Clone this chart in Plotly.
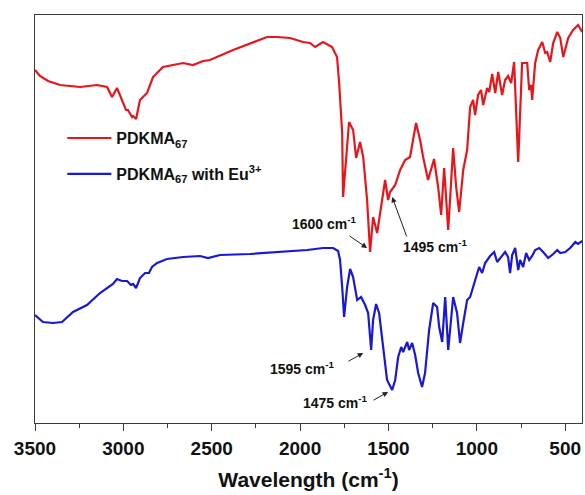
import plotly.graph_objects as go

# Wavenumber (cm-1) and relative transmittance (a.u.)
red_wn = [3500, 3472, 3426, 3358, 3245, 3149, 3092, 3064, 3036, 3008, 2985, 2974, 2951, 2945, 2928,
          2906, 2866, 2832, 2776, 2662, 2606, 2549, 2510, 2379, 2187, 2130, 2057, 1983, 1944, 1915,
          1870, 1819, 1791, 1779, 1762, 1757, 1734, 1723, 1700, 1683, 1661, 1643, 1621, 1604, 1587,
          1564, 1536, 1519, 1502, 1491, 1462, 1434, 1406, 1378, 1361, 1344, 1321, 1304, 1276, 1242,
          1219, 1202, 1185, 1162, 1134, 1117, 1100, 1077, 1055, 1038, 1021, 1010, 993, 976, 964,
          942, 930, 913, 896, 879, 857, 840, 823, 806, 789, 766, 744, 715, 704, 693,
          687, 670, 653, 630, 613, 602, 585, 568, 545, 528, 511, 483, 455, 427, 404]
red_t = [353, 347, 342, 338, 336, 338, 336, 326, 335, 323, 313, 313, 306, 307, 304,
         323, 330, 346, 356, 360, 358, 362, 363, 373, 386, 386, 385, 381, 380, 376,
         381, 376, 366, 340, 290, 226, 283, 301, 293, 265, 281, 266, 223, 171, 206,
         190, 223, 243, 223, 231, 238, 253, 263, 266, 283, 300, 283, 266, 243, 264,
         236, 208, 255, 193, 275, 236, 211, 253, 273, 316, 323, 308, 328, 333, 318,
         335, 331, 349, 330, 351, 328, 343, 347, 340, 361, 261, 360, 360, 333, 338,
         323, 360, 373, 381, 370, 371, 361, 380, 391, 385, 366, 385, 393, 398, 391]

blue_wn = [3500, 3455, 3398, 3347, 3285, 3206, 3132, 3076, 3059, 3036, 3008, 2979, 2957, 2945, 2928,
           2906, 2877, 2855, 2838, 2809, 2753, 2662, 2566, 2521, 2453, 2283, 2187, 2113, 2000, 1960,
           1870, 1813, 1785, 1774, 1762, 1751, 1734, 1717, 1700, 1677, 1655, 1632, 1615, 1598, 1587,
           1570, 1553, 1530, 1508, 1479, 1462, 1445, 1428, 1417, 1394, 1383, 1366, 1349, 1332, 1310,
           1293, 1270, 1247, 1225, 1213, 1196, 1179, 1162, 1134, 1112, 1095, 1077, 1055, 1038, 1021,
           998, 987, 970, 953, 925, 902, 885, 857, 840, 823, 812, 800, 783, 766, 755,
           738, 721, 704, 687, 670, 647, 625, 596, 568, 545, 528, 500, 472, 443, 427, 404]
blue_t = [108, 101, 100, 101, 111, 118, 130, 137, 139, 144, 142, 142, 138, 139, 135,
          145, 150, 150, 156, 160, 164, 166, 167, 165, 168, 169, 170, 171, 172, 173,
          175, 175, 172, 163, 136, 106, 136, 154, 146, 123, 126, 118, 110, 73, 103,
          119, 110, 76, 43, 33, 43, 66, 76, 71, 81, 73, 80, 68, 50, 36,
          50, 93, 120, 116, 96, 81, 126, 73, 126, 110, 80, 100, 123, 126, 136,
          151, 156, 150, 160, 167, 171, 161, 168, 171, 166, 150, 168, 175, 153, 163,
          156, 170, 163, 167, 173, 175, 171, 165, 169, 173, 170, 171, 175, 181, 179, 182]

x_ticks = [3500, 3000, 2500, 2000, 1500, 1000, 500]
x_tick_labels = ["3500", "3000", "2500", "2000", "1500", "1000", "500"]

FONT = "Liberation Sans, Arial, Helvetica, sans-serif"
FRAME = "#3a3a3a"

fig = go.Figure()
fig.add_trace(go.Scatter(x=red_wn, y=red_t, mode="lines", name="PDKMA<sub>67</sub>",
                         legendgroup="a", line=dict(color="#E8161B", width=2.2)))
fig.add_trace(go.Scatter(x=blue_wn, y=blue_t, mode="lines", name="PDKMA<sub>67</sub> with Eu<sup>3+</sup>",
                         legendgroup="b", line=dict(color="#1818D6", width=2.2)))

# text labels
labels = [
    ("1600 cm<sup>-1</sup>", 1864, 200),
    ("1495 cm<sup>-1</sup>", 1236, 177),
    ("1595 cm<sup>-1</sup>", 1989, 55),
    ("1475 cm<sup>-1</sup>", 1802, 21),
]
for txt, x, y in labels:
    fig.add_annotation(x=x, y=y, text=txt, showarrow=False, xanchor="center", yanchor="middle",
                       font=dict(family=FONT, size=14, color="#111111", weight="bold"))

# arrows (tail -> head)
arrows = [
    (1728, 188, 1621, 175),
    (1394, 185, 1479, 226),
    (1734, 61, 1643, 70),
    (1593, 22, 1502, 31),
]
for ax, ay, x, y in arrows:
    fig.add_annotation(x=x, y=y, ax=ax, ay=ay, axref="x", ayref="y", text="", showarrow=True,
                       arrowhead=2, arrowsize=1.1, arrowwidth=1, arrowcolor="#222222")

fig.update_layout(
    width=585, height=495,
    margin=dict(l=35, r=3, t=15, b=72),
    paper_bgcolor="white", plot_bgcolor="white",
    font=dict(family=FONT, color="#111111"),
    showlegend=True,
    legend=dict(x=0.05, y=0.74, xanchor="left", yanchor="top", bgcolor="rgba(0,0,0,0)",
                font=dict(family=FONT, size=16, color="#111111", weight="bold"),
                itemwidth=44, tracegroupgap=12),
    xaxis=dict(range=[3500, 405], tickmode="array", tickvals=x_ticks, ticktext=x_tick_labels,
               ticks="outside", ticklen=7, tickwidth=1.3, tickcolor=FRAME,
               showline=True, linewidth=1.3, linecolor=FRAME, mirror=True,
               showgrid=False, zeroline=False, ticklabelstandoff=1,
               tickfont=dict(family=FONT, size=19, color="#111111", weight="bold"),
               minor=dict(tickmode="linear", tick0=3250, dtick=500, ticks="outside", ticklen=4,
                          tickwidth=1.3, tickcolor=FRAME, showgrid=False),
               title=dict(text="Wavelength (cm<sup>-1</sup>)", standoff=14,
                          font=dict(family=FONT, size=21, color="#111111", weight="bold"))),
    yaxis=dict(range=[0, 408], showticklabels=False, ticks="", showline=True, linewidth=1.3,
               linecolor=FRAME, mirror=True, showgrid=False, zeroline=False),
)

fig.write_html("out.html")
